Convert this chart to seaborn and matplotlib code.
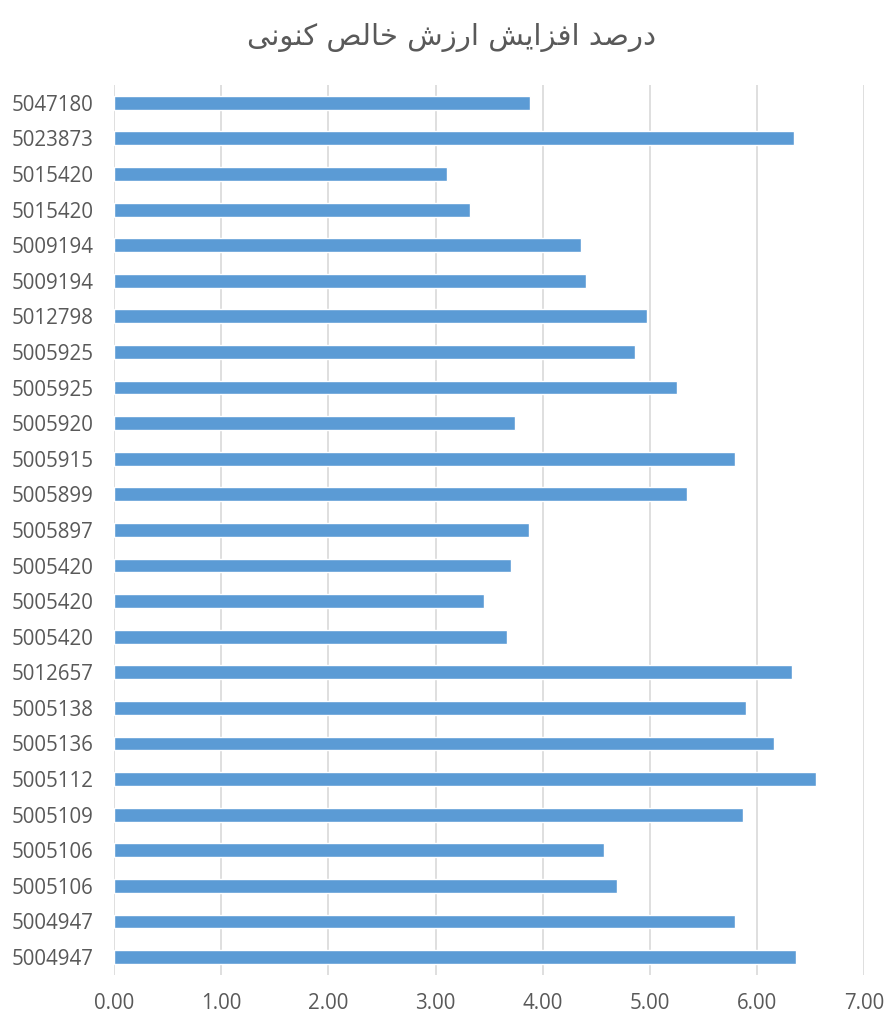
import numpy as np
import pandas as pd
import seaborn as sns
import matplotlib.pyplot as plt

# chart data, top to bottom as in the original chart
labels = ['5047180', '5023873', '5015420', '5015420', '5009194', '5009194', '5012798',
          '5005925', '5005925', '5005920', '5005915', '5005899', '5005897', '5005420',
          '5005420', '5005420', '5012657', '5005138', '5005136', '5005112', '5005109',
          '5005106', '5005106', '5004947', '5004947']
values = [3.88, 6.34, 3.11, 3.32, 4.36, 4.40, 4.97,
          4.86, 5.25, 3.74, 5.79, 5.35, 3.87, 3.70,
          3.45, 3.67, 6.33, 5.90, 6.16, 6.55, 5.87,
          4.57, 4.69, 5.79, 6.36]
xticks = [0, 1, 2, 3, 4, 5, 6, 7]
title = 'درصد افزایش ارزش خالص کنونی'

# minimal arabic/persian shaping (matplotlib has no complex text layout)
# letter: (isolated, final, initial, medial) ; 2-form letters join right only
FORMS = {
    'ا': ('\uFE8D', '\uFE8E'), 'د': ('\uFEA9', '\uFEAA'), 'ر': ('\uFEAD', '\uFEAE'),
    'ز': ('\uFEAF', '\uFEB0'), 'و': ('\uFEED', '\uFEEE'),
    'ص': ('\uFEB9', '\uFEBA', '\uFEBB', '\uFEBC'), 'ف': ('\uFED1', '\uFED2', '\uFED3', '\uFED4'),
    'ش': ('\uFEB5', '\uFEB6', '\uFEB7', '\uFEB8'), 'خ': ('\uFEA5', '\uFEA6', '\uFEA7', '\uFEA8'),
    'ل': ('\uFEDD', '\uFEDE', '\uFEDF', '\uFEE0'), 'ن': ('\uFEE5', '\uFEE6', '\uFEE7', '\uFEE8'),
    'ی': ('\uFBFC', '\uFBFD', '\uFBFE', '\uFBFF'), 'ک': ('\uFB8E', '\uFB8F', '\uFB90', '\uFB91'),
}


def shape(text):
    out = []
    for i, ch in enumerate(text):
        if ch not in FORMS:
            out.append(ch)
            continue
        prev = text[i - 1] if i > 0 else ''
        nxt = text[i + 1] if i + 1 < len(text) else ''
        join_prev = prev in FORMS and len(FORMS[prev]) == 4
        join_next = len(FORMS[ch]) == 4 and nxt in FORMS
        f = FORMS[ch]
        if join_prev and join_next:
            out.append(f[3])
        elif join_prev:
            out.append(f[1])
        elif join_next:
            out.append(f[2])
        else:
            out.append(f[0])
    return ''.join(out)[::-1]


df = pd.DataFrame({'key': [f'{i}' for i in range(len(labels))], 'value': values})

sns.set_style('white')
plt.rcParams['font.family'] = ['Open Sans', 'DejaVu Sans']

fig = plt.figure(figsize=(8.91, 10.24), dpi=100)
ax = fig.add_axes([0.128, 0.048, 0.842, 0.869])
sns.barplot(data=df, x='value', y='key', orient='h', color='#5B9BD5', saturation=1,
            width=0.39, ax=ax)

ax.set_xlim(0, 7)
ax.set_xticks(xticks)
ax.set_xticklabels([f'{t:.2f}' for t in xticks])
ax.set_yticks(range(len(labels)))
ax.set_yticklabels(labels)
ax.set_ylim(len(labels) - 0.5, -0.5)
ax.set_xlabel('')
ax.set_ylabel('')
ax.grid(axis='x', color='#D9D9D9', linewidth=1.2)
ax.set_axisbelow(True)
for s in ax.spines.values():
    s.set_visible(False)
ax.tick_params(axis='y', length=0, pad=15, labelsize=14.8, labelcolor='#595959')
ax.tick_params(axis='x', length=0, pad=13, labelsize=14.8, labelcolor='#595959')

fig.text(0.507, 0.963, shape(title), ha='center', va='center', fontsize=21,
         color='#595959', family=['DejaVu Sans'])

fig.savefig('out.png', dpi=100)
